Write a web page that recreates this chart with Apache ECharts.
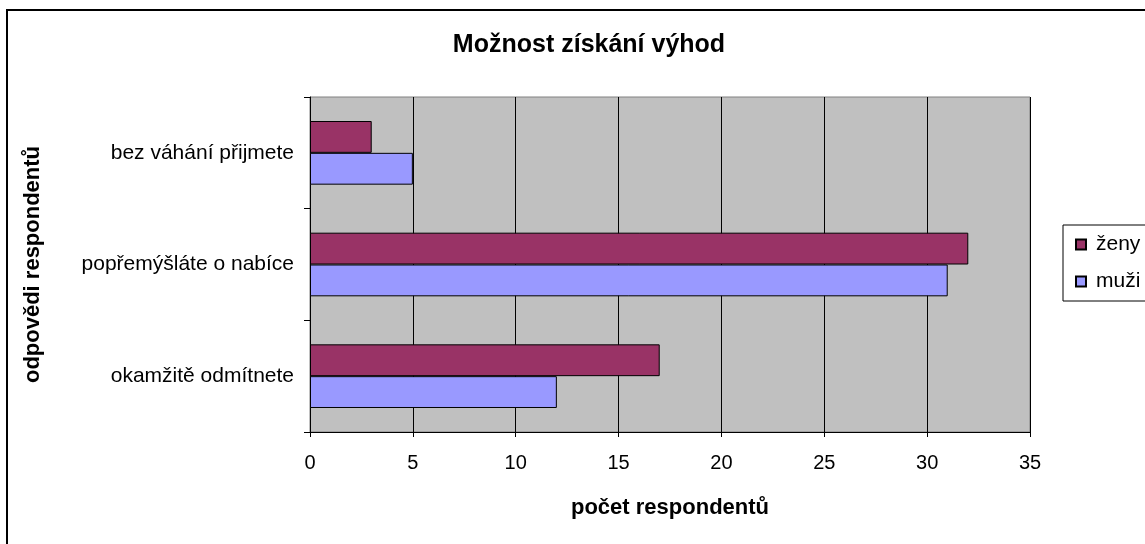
<!DOCTYPE html>
<html>
<head>
<meta charset="utf-8">
<script src="https://cdn.jsdelivr.net/npm/echarts@6/dist/echarts.min.js"></script>
<style>
  html, body { margin: 0; padding: 0; background: #fff; }
  #chart { width: 1145px; height: 544px; }
</style>
</head>
<body>
<div id="chart"></div>
<script>
// categories bottom -> top (as ECharts draws a category y axis)
const categories = ['okamžitě odmítnete', 'popřemýšláte o nabíce', 'bez váhání přijmete']
const zeny = [17, 32, 3]
const muzi = [12, 31, 5]
const xTicks = { min: 0, max: 35, interval: 5 }

const font = 'Liberation Sans, Arial, sans-serif'

const chart = echarts.init(document.getElementById('chart'))

chart.setOption({
  animation: false,
  backgroundColor: '#fff',
  title: {
    text: 'Možnost získání výhod',
    left: 584,
    textAlign: 'center',
    top: 28,
    textStyle: { fontFamily: font, fontSize: 25, fontWeight: 'bold', color: '#000' }
  },
  graphic: [{
    type: 'rect',
    shape: { x: 7, y: 10, width: 1200, height: 600 },
    style: { fill: 'none', stroke: '#000', lineWidth: 2 },
    silent: true
  }],
  legend: {
    orient: 'vertical',
    left: 1063,
    top: 225,
    data: ['ženy', 'muži'],
    itemWidth: 10,
    itemHeight: 10,
    itemGap: 16,
    icon: 'rect',
    padding: [9, 30, 9, 12],
    borderColor: '#000',
    borderWidth: 1,
    textStyle: { fontFamily: font, fontSize: 21, color: '#000', padding: [0, 0, 0, 5] }
  },
  grid: {
    left: 310,
    right: 115,
    top: 97,
    bottom: 112,
    show: true,
    backgroundColor: '#C0C0C0',
    borderColor: '#808080',
    borderWidth: 1
  },
  xAxis: {
    type: 'value',
    min: xTicks.min,
    max: xTicks.max,
    interval: xTicks.interval,
    name: 'počet respondentů',
    nameLocation: 'middle',
    nameGap: 65,
    nameTextStyle: { fontFamily: font, fontSize: 22, fontWeight: 'bold', color: '#000' },
    axisLine: { show: true, lineStyle: { color: '#000', width: 1 } },
    axisTick: { show: true, length: 5, lineStyle: { color: '#000' } },
    axisLabel: { fontFamily: font, fontSize: 20, color: '#000', margin: 21 },
    splitLine: { show: true, lineStyle: { color: '#000', width: 1 } }
  },
  yAxis: {
    type: 'category',
    data: categories,
    name: 'odpovědi respondentů',
    nameLocation: 'middle',
    nameGap: 266,
    nameRotate: 90,
    nameTextStyle: { fontFamily: font, fontSize: 22, fontWeight: 'bold', color: '#000' },
    axisLine: { show: true, lineStyle: { color: '#000', width: 1 } },
    axisTick: { show: true, length: 6, lineStyle: { color: '#000' } },
    axisLabel: { fontFamily: font, fontSize: 21, color: '#000', margin: 16 },
    splitLine: { show: false }
  },
  series: [
    {
      name: 'ženy',
      type: 'bar',
      data: zeny,
      barGap: '0%',
      barCategoryGap: '43%',
      itemStyle: { color: '#993366', borderColor: '#000', borderWidth: 1 }
    },
    {
      name: 'muži',
      type: 'bar',
      data: muzi,
      barGap: '0%',
      barCategoryGap: '43%',
      itemStyle: { color: '#9999FF', borderColor: '#000', borderWidth: 1 }
    }
  ]
})
</script>
</body>
</html>
